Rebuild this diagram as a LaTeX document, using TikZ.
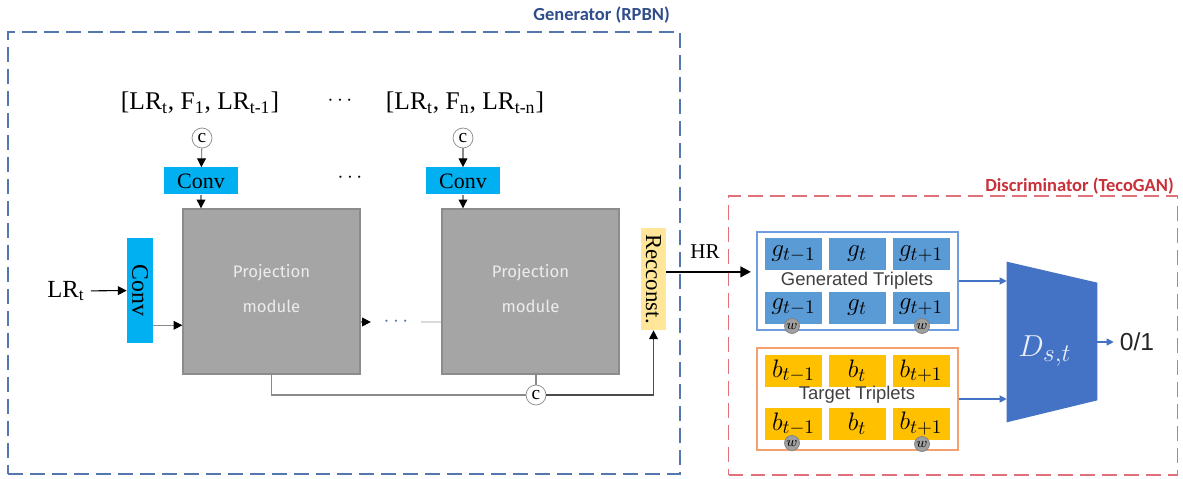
\documentclass[tikz,border=0pt]{standalone}
\usepackage{fontspec,graphicx}
\setmainfont{Liberation Serif}
\newfontfamily\capfont{Carlito}
\newfontfamily\modfont{Fira Sans}
\newfontfamily\tripfont{Liberation Sans}
\usetikzlibrary{calc,arrows.meta}

\definecolor{genblue}{HTML}{5577B0}
\definecolor{genlabel}{HTML}{2F4D8A}
\definecolor{disred}{HTML}{E0707A}
\definecolor{dislabel}{HTML}{C8303A}
\definecolor{convcyan}{HTML}{00B0F0}
\definecolor{projgray}{HTML}{A5A5A5}
\definecolor{projedge}{HTML}{8C8C8C}
\definecolor{projtext}{HTML}{ECECEC}
\definecolor{reconyellow}{HTML}{FFE699}
\definecolor{cellblue}{HTML}{5B9BD5}
\definecolor{cellgold}{HTML}{FFC000}
\definecolor{genedge}{HTML}{6F9EE0}
\definecolor{taredge}{HTML}{F4A070}
\definecolor{dblue}{HTML}{4472C4}
\definecolor{linegray}{HTML}{8A8A8A}

\begin{document}
\begin{tikzpicture}[x=0.02cm,y=-0.02cm,
  conv/.style={fill=convcyan,inner sep=0pt,font=\fontsize{12.5}{14}\selectfont},
  proj/.style={fill=projgray,draw=projedge,line width=0.8pt,minimum width=3.54cm,
    minimum height=3.3cm,text=projtext,font=\modfont\fontsize{9.5}{11}\selectfont},
  cat/.style={circle,draw=linegray,fill=white,minimum size=0.4cm,inner sep=0pt,
    font=\fontsize{11}{11}\selectfont},
  gline/.style={draw=linegray,line width=0.6pt},
  tip/.style={-{Triangle[length=5pt,width=5pt,color=black]}},
  cell/.style={fill=cellblue,minimum width=1.14cm,minimum height=0.64cm,inner sep=0pt,
    font=\fontsize{15}{15}\selectfont},
  bcell/.style={cell,fill=cellgold},
  wdot/.style={circle,fill=gray!75,draw=gray,minimum size=0.3cm,inner sep=0pt,
    font=\fontsize{8}{8}\selectfont},
  trip/.style={minimum width=4.02cm,line width=0.9pt,fill=white},
  triptext/.style={font=\tripfont\fontsize{10.5}{10}\selectfont,text=black!75},
  dashbox/.style={line width=1pt,dash pattern=on 8.5pt off 4pt},
  boxlabel/.style={font=\capfont\bfseries\fontsize{10.5}{12}\selectfont,anchor=east}]

  \useasboundingbox (0,0) rectangle (1183,479);

  % Generator (RPBN)

  \node [dashbox,draw=genblue,minimum width=13.44cm,minimum height=8.84cm] (genbox) at (344,253) {};
  \node [boxlabel,text=genlabel] (genlab) at (676,15) {Generator (RPBN)};

  \node [font=\fontsize{14.5}{16}\selectfont] (in1) at (200,103) {[LR\textsubscript{t}, F\textsubscript{1}, LR\textsubscript{t-1}]};
  \node [font=\fontsize{13}{15}\selectfont] (indots) at (340,101) {$\cdots$};
  \node [font=\fontsize{14.5}{16}\selectfont] (inn) at (465,103) {[LR\textsubscript{t}, F\textsubscript{n}, LR\textsubscript{t-n}]};

  \node [cat] (c1) at (202,138) {c};
  \node [cat] (c2) at (463,138) {c};

  \node [conv,minimum width=1.48cm,minimum height=0.54cm] (conv1) at (201,181) {Conv};
  \node [font=\fontsize{12}{14}\selectfont] (convdots) at (350,178) {$\cdots$};
  \node [conv,minimum width=1.48cm,minimum height=0.54cm] (conv2) at (463,181) {Conv};

  \node [proj] (proj1) at (271.5,291.5) {\raisebox{4pt}{\begin{tabular}{c}Projection\\[9pt]module\end{tabular}}};
  \node [proj] (proj2) at (530.5,291.5) {\raisebox{4pt}{\begin{tabular}{c}Projection\\[9pt]module\end{tabular}}};

  \node [font=\fontsize{14}{16}\selectfont] (lrt) at (66,291) {LR\textsubscript{t}};
  \node [conv,minimum width=0.52cm,minimum height=2.1cm,font=\fontsize{13.5}{15}\selectfont] (convl) at (140,290.5) {\rotatebox{-90}{Conv}};

  \node [text=genblue,inner xsep=0.25cm,font=\fontsize{12}{14}\selectfont] (mdots) at (396,322) {$\cdots$};

  \node [fill=reconyellow,minimum width=0.5cm,minimum height=2.04cm,inner sep=0pt,
    font=\fontsize{13}{14}\selectfont] (recon) at (653.5,279) {\rotatebox{-90}{Recconst.}};

  \node [cat] (cc) at (536,395) {c};

  \draw [gline,tip] (c1) -- (conv1);
  \draw [gline,tip] (conv1) -- (conv1 |- proj1.north);
  \draw [gline,tip] (c2) -- (conv2);
  \draw [gline,tip] (conv2) -- (conv2 |- proj2.north);
  \draw [tip,line width=0.6pt] (lrt) -- (convl);
  \draw [gline,tip] (convl.-69) -- (convl.-69 -| proj1.west);
  \draw [gline,tip] (mdots -| proj1.east) -- (mdots.west);
  \draw [draw=black!15,line width=1pt] (mdots.east) -- (mdots -| proj2.west);
  \draw [gline] (proj1.south) |- (cc.west);
  \draw [gline] (cc) -- (cc |- proj2.south);
  \draw [draw=black!70,line width=0.7pt,tip] (cc.east) -| (recon.south);

  % Discriminator (TecoGAN)

  \node [dashbox,draw=disred,minimum width=8.98cm,minimum height=5.58cm] (disbox) at (953,335.5) {};
  \node [boxlabel,text=dislabel] (dislab) at (1180,186) {Discriminator (TecoGAN)};

  \node [trip,draw=genedge,minimum height=1.96cm] (gentrip) at (857.5,281) {};
  \node [trip,draw=taredge,minimum height=2.04cm] (tartrip) at (857.5,399) {};

  \node [cell] (g11) at (793.5,254) {$g_{t-1}$};
  \node [cell] (g12) at (857,254) {$g_{t}$};
  \node [cell] (g13) at (921,254) {$g_{t+1}$};
  \node [cell] (g21) at (793.5,308) {\raisebox{4pt}{$g_{t-1}$}};
  \node [cell] (g22) at (857,308) {$g_{t}$};
  \node [cell] (g23) at (921,308) {\raisebox{4pt}{$g_{t+1}$}};
  \node [wdot] (gw1) at (792,326) {$w$};
  \node [wdot] (gw3) at (922,326) {$w$};
  \node [triptext] (gentxt) at (857,281) {Generated Triplets};

  \node [bcell] (b11) at (793.5,371) {$b_{t-1}$};
  \node [bcell] (b12) at (857,371) {$b_{t}$};
  \node [bcell] (b13) at (921,371) {$b_{t+1}$};
  \node [bcell] (b21) at (793.5,424) {\raisebox{3pt}{$b_{t-1}$}};
  \node [bcell] (b22) at (857,424) {$b_{t}$};
  \node [bcell] (b23) at (921,424) {\raisebox{4pt}{$b_{t+1}$}};
  \node [wdot] (bw1) at (792,443) {$w$};
  \node [wdot] (bw3) at (922,444) {$w$};
  \node [triptext] (tartxt) at (857,395) {Target Triplets};

  \node [font=\fontsize{12}{13}\selectfont] (hr) at (705,252) {HR};
  \draw [-{Triangle[length=6pt,width=6pt]},line width=1.3pt,shorten >=3pt] (recon.29) -- (recon.29 -| gentrip.west);

  \node [minimum width=1.8cm,minimum height=3.2cm,inner sep=0pt] (dnet) at (1052,342) {};
  \fill [dblue] (dnet.north west) -- ($(dnet.north east)+(0,21)$)
    -- ($(dnet.south east)+(0,-22)$) -- (dnet.south west) -- cycle;
  \node [text=white!88!dblue,font=\fontsize{19}{19}\selectfont] (dtxt) at (1045,351) {$D_{s,t}$};

  \node [font=\tripfont\fontsize{14}{16}\selectfont,text=black!85] (out) at (1137,342) {0/1};

  \draw [draw=dblue,line width=0.6pt,-{Triangle[length=4pt,width=4pt]}] (gentrip.east) -- (gentrip.east -| dnet.west);
  \draw [draw=dblue,line width=0.6pt,-{Triangle[length=4pt,width=4pt]}] (tartrip.east) -- (tartrip.east -| dnet.west);
  \draw [draw=dblue,line width=0.6pt,-{Triangle[length=4pt,width=4pt]}] (dnet.east) -- (out.west);

\end{tikzpicture}
\end{document}
